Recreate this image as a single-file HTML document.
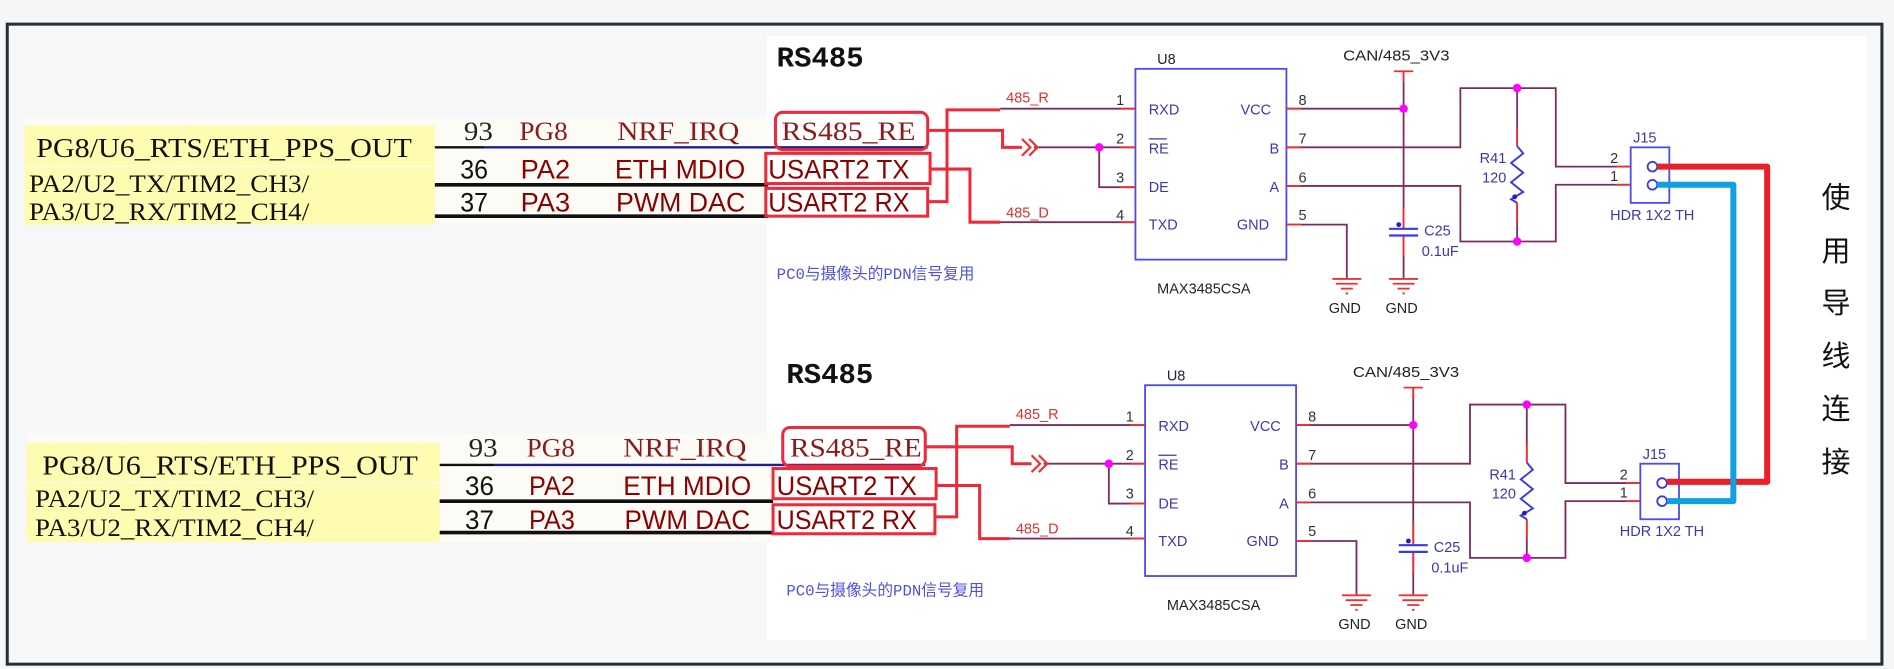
<!DOCTYPE html>
<html><head><meta charset="utf-8"><style>
html,body{margin:0;padding:0;background:#f4f6f8;}
svg{display:block;}
.serif{font-family:"Liberation Serif",serif;}
.sans{font-family:"Liberation Sans",sans-serif;}
</style></head><body>
<svg width="1894" height="669" viewBox="0 0 1568 554" preserveAspectRatio="none" xmlns="http://www.w3.org/2000/svg">
<defs>
<g id="right">
  <text x="643" y="55" font-family="'Liberation Mono', monospace" font-weight="bold" font-size="24" fill="#111">RS485</text>
  <text x="958" y="53" class="sans" font-size="12" fill="#223">U8</text>
  <text x="1112" y="50" class="sans" font-size="12" fill="#222" textLength="88" lengthAdjust="spacingAndGlyphs">CAN/485_3V3</text>
  <rect x="940" y="57" width="125" height="158" fill="none" stroke="#4a4af0" stroke-width="1.5"/>
  <g class="sans" font-size="12" fill="#3a3aa8">
    <text x="951" y="95">RXD</text><text x="951" y="127">RE</text><text x="951" y="159">DE</text><text x="951" y="190">TXD</text>
    <text x="1027" y="95">VCC</text><text x="1051" y="127">B</text><text x="1051" y="159">A</text><text x="1024" y="190">GND</text>
  </g>
  <line x1="951" y1="115" x2="966" y2="115" stroke="#3a3aa8" stroke-width="1"/>
  <g class="sans" font-size="12" fill="#333">
    <text x="924" y="87">1</text><text x="924" y="119">2</text><text x="924" y="151">3</text><text x="924" y="182">4</text>
    <text x="1075" y="87">8</text><text x="1075" y="119">7</text><text x="1075" y="151">6</text><text x="1075" y="182">5</text>
  </g>
  <g stroke="#7b2d5c" stroke-width="1.5" fill="none">
    <line x1="828" y1="90" x2="940" y2="90"/>
    <line x1="856" y1="122" x2="940" y2="122"/>
    <polyline points="910,122 910,155 940,155"/>
    <line x1="828" y1="184" x2="940" y2="184"/>
    <line x1="1065" y1="90" x2="1162" y2="90"/>
    <polyline points="1065,122 1209,122 1209,73 1288,73 1288,138 1350,138"/>
    <polyline points="1065,154 1209,154 1209,200 1288,200 1288,153 1350,153"/>
    <polyline points="1065,186 1115,186 1115,231"/>
    <line x1="1162" y1="59" x2="1162" y2="189"/>
    <line x1="1162" y1="195" x2="1162" y2="231"/>
    <line x1="1256" y1="73" x2="1256" y2="121"/>
    <line x1="1256" y1="168" x2="1256" y2="200"/>
  </g>
  <g stroke="#f03030" stroke-width="1.5">
    <line x1="928" y1="90" x2="940" y2="90"/><line x1="928" y1="122" x2="940" y2="122"/>
    <line x1="928" y1="155" x2="940" y2="155"/><line x1="928" y1="184" x2="940" y2="184"/>
    <line x1="1065" y1="90" x2="1077" y2="90"/><line x1="1065" y1="122" x2="1077" y2="122"/>
    <line x1="1065" y1="154" x2="1077" y2="154"/><line x1="1065" y1="186" x2="1077" y2="186"/>
    <line x1="1154" y1="59" x2="1170" y2="59"/><line x1="1162" y1="59" x2="1162" y2="68"/>
    <line x1="1256" y1="105" x2="1256" y2="121"/><line x1="1256" y1="168" x2="1256" y2="184"/>
    <line x1="1338" y1="138" x2="1350" y2="138"/><line x1="1338" y1="153" x2="1350" y2="153"/>
    <line x1="1162" y1="172" x2="1162" y2="189"/><line x1="1162" y1="195" x2="1162" y2="212"/>
  </g>
  <g stroke="#f03030" stroke-width="1.8" fill="none">
    <polyline points="846,115 853,122 846,129"/><polyline points="852,115 859,122 852,129"/>
  </g>
  <text x="833" y="85" class="sans" font-size="12" fill="#e03030">485_R</text>
  <text x="833" y="180" class="sans" font-size="12" fill="#e03030">485_D</text>
  <g fill="#ff00ff"><circle cx="910" cy="122" r="3.5"/><circle cx="1162" cy="90" r="3.5"/><circle cx="1256" cy="73" r="3.5"/><circle cx="1256" cy="200" r="3.5"/></g>
  <g stroke="#3a3ae0" stroke-width="1.8"><line x1="1150" y1="189.5" x2="1174" y2="189.5"/><line x1="1150" y1="195" x2="1174" y2="195"/></g>
  <circle cx="1158" cy="186" r="2" fill="#2020c0"/>
  <text x="1179" y="195" class="sans" font-size="12" fill="#3a3aa8">C25</text>
  <text x="1177" y="212" class="sans" font-size="12" fill="#3a3aa8">0.1uF</text>
  <polyline points="1256,121 1261,127 1251,135 1261,143 1251,151 1261,159 1251,165 1256,168" fill="none" stroke="#3a3ae0" stroke-width="1.6"/>
  <circle cx="1254" cy="163" r="2" fill="#2020c0"/>
  <text x="1225" y="135" class="sans" font-size="12" fill="#3a3aa8">R41</text>
  <text x="1227" y="151" class="sans" font-size="12" fill="#3a3aa8">120</text>
  <g stroke="#f03030" stroke-width="1.5">
    <line x1="1103" y1="231" x2="1127" y2="231"/><line x1="1106" y1="235" x2="1124" y2="235"/><line x1="1110" y1="239" x2="1120" y2="239"/><line x1="1114" y1="243" x2="1116" y2="243"/>
    <line x1="1150" y1="231" x2="1174" y2="231"/><line x1="1153" y1="235" x2="1171" y2="235"/><line x1="1157" y1="239" x2="1167" y2="239"/><line x1="1161" y1="243" x2="1163" y2="243"/>
  </g>
  <text x="1100" y="259" class="sans" font-size="12" fill="#222">GND</text>
  <text x="1147" y="259" class="sans" font-size="12" fill="#222">GND</text>
  <text x="958" y="243" class="sans" font-size="12" fill="#223">MAX3485CSA</text>
  <rect x="1350" y="122" width="32" height="46" fill="none" stroke="#4a4af0" stroke-width="1.5"/>
  <text x="1352" y="118" class="sans" font-size="12" fill="#3a3aa8">J15</text>
  <text x="1333" y="135" class="sans" font-size="12" fill="#333">2</text>
  <text x="1333" y="150" class="sans" font-size="12" fill="#333">1</text>
  <g stroke="#3a3ae0" stroke-width="1.5" fill="none"><circle cx="1368" cy="138" r="4"/><circle cx="1368" cy="153" r="4"/></g>
  <text x="1333" y="182" class="sans" font-size="12" fill="#3a3aa8">HDR 1X2 TH</text>
  <text x="643" y="231" font-family="'Liberation Mono','Noto Sans CJK SC',monospace" font-size="13" fill="#5050e0">PC0与摄像头的PDN信号复用</text>
</g>
</defs>

<rect x="6" y="20" width="1552" height="530" fill="#f5f7f9" stroke="#2a2e33" stroke-width="2.5"/>
<rect x="635" y="30" width="910" height="500" fill="#fff"/>

<use href="#right"/>
<use href="#right" transform="translate(8,262)"/>

<!-- left top -->
<rect x="20" y="97" width="615" height="88" fill="#fdfbf6"/>
<rect x="20" y="104" width="340" height="33" fill="#fffbb0"/>
<rect x="20" y="138" width="340" height="48" fill="#fffbb0"/>
<text x="30" y="130" class="serif" font-size="23" fill="#111" textLength="311" lengthAdjust="spacingAndGlyphs">PG8/U6_RTS/ETH_PPS_OUT</text>
<text x="24" y="159" class="serif" font-size="21" fill="#111" textLength="232" lengthAdjust="spacingAndGlyphs">PA2/U2_TX/TIM2_CH3/</text>
<text x="24" y="182" class="serif" font-size="21" fill="#111" textLength="232" lengthAdjust="spacingAndGlyphs">PA3/U2_RX/TIM2_CH4/</text>
<line x1="360" y1="122" x2="401" y2="122" stroke="#111" stroke-width="2"/>
<line x1="401" y1="122" x2="768" y2="122" stroke="#202090" stroke-width="2"/>
<line x1="360" y1="153" x2="636" y2="153" stroke="#111" stroke-width="3"/>
<line x1="360" y1="179" x2="636" y2="179" stroke="#111" stroke-width="3"/>
<text x="384" y="116" class="serif" font-size="22" fill="#222" textLength="24" lengthAdjust="spacingAndGlyphs">93</text>
<text x="430" y="116" class="serif" font-size="22" fill="#8b1a1a" textLength="40" lengthAdjust="spacingAndGlyphs">PG8</text>
<text x="511" y="116" class="serif" font-size="22" fill="#8b1a1a" textLength="101" lengthAdjust="spacingAndGlyphs">NRF_IRQ</text>
<text x="381" y="148" class="sans" font-size="22" fill="#111" textLength="23" lengthAdjust="spacingAndGlyphs">36</text>
<text x="431" y="148" class="sans" font-size="22" fill="#8b0000" textLength="41" lengthAdjust="spacingAndGlyphs">PA2</text>
<text x="509" y="148" class="sans" font-size="22" fill="#8b0000" textLength="108" lengthAdjust="spacingAndGlyphs">ETH MDIO</text>
<text x="381" y="175" class="sans" font-size="22" fill="#111" textLength="23" lengthAdjust="spacingAndGlyphs">37</text>
<text x="431" y="175" class="sans" font-size="22" fill="#8b0000" textLength="41" lengthAdjust="spacingAndGlyphs">PA3</text>
<text x="510" y="175" class="sans" font-size="22" fill="#8b0000" textLength="107" lengthAdjust="spacingAndGlyphs">PWM DAC</text>
<text x="647" y="116" class="serif" font-size="22" fill="#8b1a1a" textLength="111" lengthAdjust="spacingAndGlyphs">RS485_RE</text>
<text x="636" y="148" class="sans" font-size="22" fill="#8b0000" textLength="117" lengthAdjust="spacingAndGlyphs">USART2 TX</text>
<text x="636" y="175" class="sans" font-size="22" fill="#8b0000" textLength="117" lengthAdjust="spacingAndGlyphs">USART2 RX</text>
<g fill="none" stroke="#ee2a3a" stroke-width="2.5">
  <rect x="642" y="93" width="126" height="31" rx="6"/>
  <rect x="634" y="127" width="136" height="25"/>
  <rect x="634" y="156" width="134" height="23"/>
  <polyline points="768,108 830,108 830,122 846,122"/>
  <polyline points="770,140 803,140 803,184 828,184"/>
  <polyline points="768,167 784,167 784,91 828,91"/>
</g>

<!-- left bottom -->
<rect x="22" y="359" width="617" height="90" fill="#fdfbf6"/>
<rect x="22" y="367" width="342" height="32" fill="#fffbb0"/>
<rect x="22" y="400" width="342" height="49" fill="#fffbb0"/>
<text x="35" y="393" class="serif" font-size="23" fill="#111" textLength="311" lengthAdjust="spacingAndGlyphs">PG8/U6_RTS/ETH_PPS_OUT</text>
<text x="29" y="420" class="serif" font-size="21" fill="#111" textLength="231" lengthAdjust="spacingAndGlyphs">PA2/U2_TX/TIM2_CH3/</text>
<text x="29" y="444" class="serif" font-size="21" fill="#111" textLength="231" lengthAdjust="spacingAndGlyphs">PA3/U2_RX/TIM2_CH4/</text>
<line x1="364" y1="385" x2="409" y2="385" stroke="#111" stroke-width="2"/>
<line x1="409" y1="385" x2="766" y2="385" stroke="#202090" stroke-width="2"/>
<line x1="364" y1="415" x2="640" y2="415" stroke="#111" stroke-width="3"/>
<line x1="364" y1="441" x2="640" y2="441" stroke="#111" stroke-width="3"/>
<text x="388" y="378" class="serif" font-size="22" fill="#222" textLength="24" lengthAdjust="spacingAndGlyphs">93</text>
<text x="436" y="378" class="serif" font-size="22" fill="#8b1a1a" textLength="40" lengthAdjust="spacingAndGlyphs">PG8</text>
<text x="516" y="378" class="serif" font-size="22" fill="#8b1a1a" textLength="102" lengthAdjust="spacingAndGlyphs">NRF_IRQ</text>
<text x="385" y="410" class="sans" font-size="22" fill="#111" textLength="24" lengthAdjust="spacingAndGlyphs">36</text>
<text x="438" y="410" class="sans" font-size="22" fill="#8b0000" textLength="38" lengthAdjust="spacingAndGlyphs">PA2</text>
<text x="516" y="410" class="sans" font-size="22" fill="#8b0000" textLength="106" lengthAdjust="spacingAndGlyphs">ETH MDIO</text>
<text x="385" y="438" class="sans" font-size="22" fill="#111" textLength="24" lengthAdjust="spacingAndGlyphs">37</text>
<text x="438" y="438" class="sans" font-size="22" fill="#8b0000" textLength="38" lengthAdjust="spacingAndGlyphs">PA3</text>
<text x="517" y="438" class="sans" font-size="22" fill="#8b0000" textLength="104" lengthAdjust="spacingAndGlyphs">PWM DAC</text>
<text x="654" y="378" class="serif" font-size="22" fill="#8b1a1a" textLength="109" lengthAdjust="spacingAndGlyphs">RS485_RE</text>
<text x="643" y="410" class="sans" font-size="22" fill="#8b0000" textLength="116" lengthAdjust="spacingAndGlyphs">USART2 TX</text>
<text x="643" y="438" class="sans" font-size="22" fill="#8b0000" textLength="116" lengthAdjust="spacingAndGlyphs">USART2 RX</text>
<g fill="none" stroke="#ee2a3a" stroke-width="2.5">
  <rect x="648" y="354" width="118" height="32" rx="6"/>
  <rect x="640" y="388" width="135" height="25"/>
  <rect x="640" y="418" width="134" height="24"/>
  <polyline points="766,370 838,370 838,384 854,384"/>
  <polyline points="775,402 811,402 811,446 836,446"/>
  <polyline points="774,428 792,428 792,353 836,353"/>
</g>

<polyline points="1372,138 1463,138 1463,399 1380,399" fill="none" stroke="#e8202a" stroke-width="5" stroke-linejoin="round"/>
<polyline points="1372,153 1435,153 1435,415 1380,415" fill="none" stroke="#10a0e0" stroke-width="5" stroke-linejoin="round"/>

<g font-family="'Noto Sans CJK SC',sans-serif" font-size="24" fill="#111">
  <text x="1508" y="172">使</text><text x="1508" y="216">用</text><text x="1508" y="259">导</text>
  <text x="1508" y="303">线</text><text x="1508" y="347">连</text><text x="1508" y="391">接</text>
</g>
</svg>
</body></html>
